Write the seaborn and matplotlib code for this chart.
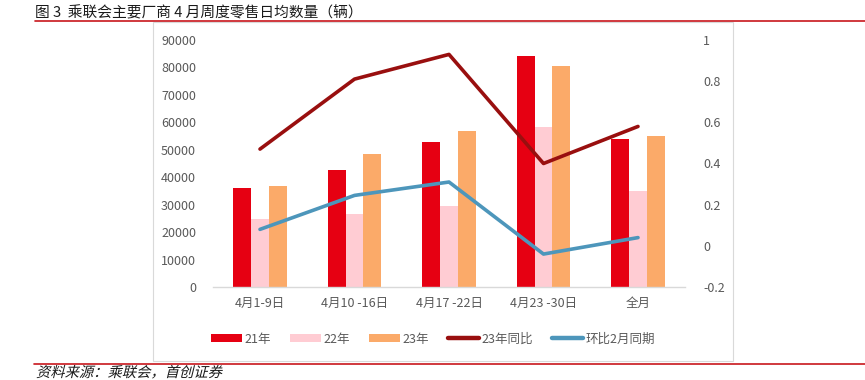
import numpy as np
import pandas as pd
import matplotlib
matplotlib.use("Agg")
import matplotlib.pyplot as plt
from matplotlib.patches import Patch, Rectangle, PathPatch
from matplotlib.lines import Line2D
from matplotlib.textpath import TextPath
from matplotlib.font_manager import FontProperties
from matplotlib.transforms import Affine2D, IdentityTransform
import seaborn as sns

# ---- data ----
categories = ["4月1-9日", "4月10 -16日", "4月17 -22日", "4月23 -30日", "全月"]
bar_series = ["21年", "22年", "23年"]
sales_21 = [36100, 42800, 53000, 84100, 53800]
sales_22 = [24700, 26600, 29400, 58200, 34900]
sales_23 = [36700, 48300, 56700, 80700, 55100]
line_series = ["23年同比", "环比2月同期"]
yoy_23 = [0.47, 0.81, 0.93, 0.40, 0.58]
vs_feb = [0.08, 0.245, 0.31, -0.04, 0.04]
left_ticks = [0, 10000, 20000, 30000, 40000, 50000, 60000, 70000, 80000, 90000]
left_tick_labels = ["0", "10000", "20000", "30000", "40000", "50000", "60000", "70000", "80000", "90000"]
right_ticks = [-0.2, 0, 0.2, 0.4, 0.6, 0.8, 1.0]
right_tick_labels = ["-0.2", "0", "0.2", "0.4", "0.6", "0.8", "1"]
title = "图 3  乘联会主要厂商 4 月周度零售日均数量（辆）"
source = "资料来源：乘联会，首创证券"

bar_colors = ["#E60012", "#FFCCD3", "#FBAA69"]
line_colors = ["#990F0F", "#4D96BB"]
tick_color = "#595959"

sns.set_theme(style="white")
plt.rcParams["font.family"] = ["Noto Sans CJK SC", "DejaVu Sans"]
plt.rcParams["axes.unicode_minus"] = False

W, H = 865, 380
DPI = 100
fig = plt.figure(figsize=(W / DPI, H / DPI), dpi=DPI)

def fx(px):
    return px / W

def fy(py):
    return 1 - py / H

# chart frame
fig.patches.append(Rectangle((fx(153), fy(361)), fx(733) - fx(153), fy(22) - fy(361),
                             transform=fig.transFigure, fill=False,
                             edgecolor="#D9D9D9", linewidth=0.8, zorder=0))

ax = fig.add_axes([fx(212.75), fy(287), (685.25 - 212.75) / W, (287 - 40) / H])

df = pd.DataFrame({
    "cat": categories * 3,
    "series": sum([[s] * len(categories) for s in bar_series], []),
    "value": sales_21 + sales_22 + sales_23,
})
sns.barplot(data=df, x="cat", y="value", hue="series", order=categories,
            hue_order=bar_series, palette=bar_colors, width=0.57, gap=0,
            saturation=1, ax=ax, legend=False, errorbar=None, linewidth=0)

ax.set_xlim(-0.5, len(categories) - 0.5)
ax.set_ylim(0, 90000)
ax.set_yticks(left_ticks)
ax.set_yticklabels(left_tick_labels)
ax.set_xlabel("")
ax.set_ylabel("")
for s in ["top", "left", "right"]:
    ax.spines[s].set_visible(False)
ax.spines["bottom"].set_color("#D9D9D9")
ax.spines["bottom"].set_linewidth(1)
ax.tick_params(axis="both", length=0, colors=tick_color, labelsize=9)
ax.tick_params(axis="x", pad=7)
ax.tick_params(axis="y", pad=12)
ax.grid(False)

ax2 = ax.twinx()
xpos = np.arange(len(categories))
sns.lineplot(x=xpos, y=yoy_23, color=line_colors[0], linewidth=2.6, ax=ax2)
sns.lineplot(x=xpos, y=vs_feb, color=line_colors[1], linewidth=2.6, ax=ax2)
ax2.set_ylim(-0.2, 1.0)
ax2.set_yticks(right_ticks)
ax2.set_yticklabels(right_tick_labels)
ax2.set_xlim(-0.5, len(categories) - 0.5)
for s in ["top", "left", "right", "bottom"]:
    ax2.spines[s].set_visible(False)
ax2.tick_params(axis="y", length=0, colors=tick_color, labelsize=9, pad=13)
ax2.grid(False)

handles = [Patch(facecolor=c, edgecolor="none") for c in bar_colors] + \
          [Line2D([0], [0], color=c, linewidth=3.2, solid_capstyle="round") for c in line_colors]
labels = bar_series + line_series
leg = fig.legend(handles, labels, loc="center", bbox_to_anchor=(fx(433), fy(339)),
                 ncol=5, frameon=False, fontsize=9, handlelength=2.5, handleheight=0.6,
                 handletextpad=0.2, columnspacing=1.5)
for t in leg.get_texts():
    t.set_color(tick_color)

# title and rules
fig.text(fx(35), fy(13), title, fontsize=10.6, va="center", ha="left", color="#1a1a1a")
fig.add_artist(Line2D([fx(35), 1], [fy(21), fy(21)], color="#C8161D", linewidth=1.2,
                      transform=fig.transFigure))
fig.add_artist(Line2D([fx(34), 1], [fy(363.5), fy(363.5)], color="#C8161D", linewidth=1.2,
                      transform=fig.transFigure))

# italic (slanted) source note
fp = FontProperties(family="Noto Sans CJK SC", size=10.3)
tp = TextPath((0, 0), source, prop=fp)
px_per_pt = DPI / 72.0
tr = Affine2D().skew_deg(14, 0).scale(px_per_pt).translate(36, H - 377)
fig.patches.append(PathPatch(tr.transform_path(tp), transform=IdentityTransform(),
                             facecolor="#1a1a1a", edgecolor="none"))

fig.savefig("out.png", dpi=DPI)
